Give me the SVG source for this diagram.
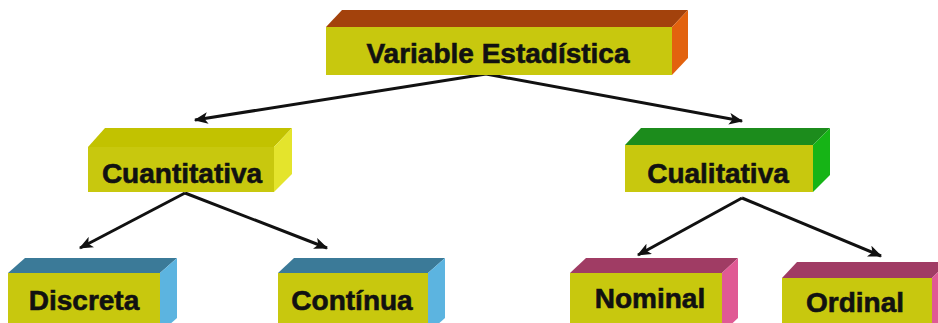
<svg xmlns="http://www.w3.org/2000/svg" width="938" height="323" viewBox="0 0 938 323">
<defs>
<style>
.front{fill:#c8c80e;}
.lbl{font-family:"Liberation Sans",Arial,sans-serif;font-weight:bold;font-size:28px;fill:#111;stroke:#111;stroke-width:0.6;text-anchor:middle;}
.conn{stroke:#111;stroke-width:3;fill:none;marker-end:url(#arr);}
.t-brown{fill:#a3420c;} .s-orange{fill:#e2620e;}
.t-yel{fill:#c2c200;} .s-yel{fill:#e4e42c;}
.t-green{fill:#1c8c1c;} .s-green{fill:#16b416;}
.t-blue{fill:#3b7a98;} .s-blue{fill:#5cb4e0;}
.t-mag{fill:#a03c64;} .s-mag{fill:#e05a94;}
</style>
<marker id="arr" viewBox="0 0 12 10" refX="11" refY="5" markerWidth="14" markerHeight="12" markerUnits="userSpaceOnUse" orient="auto">
<path d="M0,0 L12,5 L0,10 L3,5 z" fill="#111"/>
</marker>
</defs>
<rect width="938" height="323" fill="#fff"/>

<g id="connectors">
<line class="conn" x1="486" y1="74" x2="195" y2="120"/>
<line class="conn" x1="486" y1="74" x2="742" y2="121"/>
<line class="conn" x1="185" y1="193" x2="80" y2="248"/>
<line class="conn" x1="185" y1="193" x2="327" y2="248"/>
<line class="conn" x1="742" y1="198" x2="638" y2="255"/>
<line class="conn" x1="742" y1="198" x2="881" y2="256"/>
</g>

<g id="variable-estadistica">
<polygon class="t-brown" points="326,27 342,10 688,10 672,27"/>
<polygon class="s-orange" points="672,27 688,10 688,58 672,75"/>
<rect class="front" x="326" y="27" width="346" height="48"/>
<text class="lbl" x="498" y="63">Variable Estadística</text>
</g>

<g id="cuantitativa">
<polygon class="t-yel" points="88,147 105,128 292,128 274,147"/>
<polygon class="s-yel" points="274,147 292,128 292,174 274,192"/>
<rect class="front" x="88" y="147" width="186" height="45"/>
<text class="lbl" x="182" y="183">Cuantitativa</text>
</g>

<g id="cualitativa">
<polygon class="t-green" points="625,145 641,128 830,128 813,145"/>
<polygon class="s-green" points="813,145 830,128 830,175 813,192"/>
<rect class="front" x="625" y="145" width="188" height="47"/>
<text class="lbl" x="718" y="183">Cualitativa</text>
</g>

<g id="discreta">
<polygon class="t-blue" points="8,273 25,258 177,258 160,273"/>
<polygon class="s-blue" points="160,273 177,258 177,318 160,333"/>
<rect class="front" x="8" y="273" width="152" height="60"/>
<text class="lbl" x="84" y="310">Discreta</text>
</g>

<g id="continua">
<polygon class="t-blue" points="278,273 294,258 445,258 428,273"/>
<polygon class="s-blue" points="428,273 445,258 445,318 428,333"/>
<rect class="front" x="278" y="273" width="150" height="60"/>
<text class="lbl" x="352" y="310">Contínua</text>
</g>

<g id="nominal">
<polygon class="t-mag" points="570,273 586,258 738,258 722,273"/>
<polygon class="s-mag" points="722,273 738,258 738,318 722,333"/>
<rect class="front" x="570" y="273" width="152" height="60"/>
<text class="lbl" x="650" y="308">Nominal</text>
</g>

<g id="ordinal">
<polygon class="t-mag" points="782,278 797,262 948,262 932,278"/>
<polygon class="s-mag" points="932,278 948,262 948,322 932,338"/>
<rect class="front" x="782" y="278" width="150" height="60"/>
<text class="lbl" x="855" y="312">Ordinal</text>
</g>
</svg>
